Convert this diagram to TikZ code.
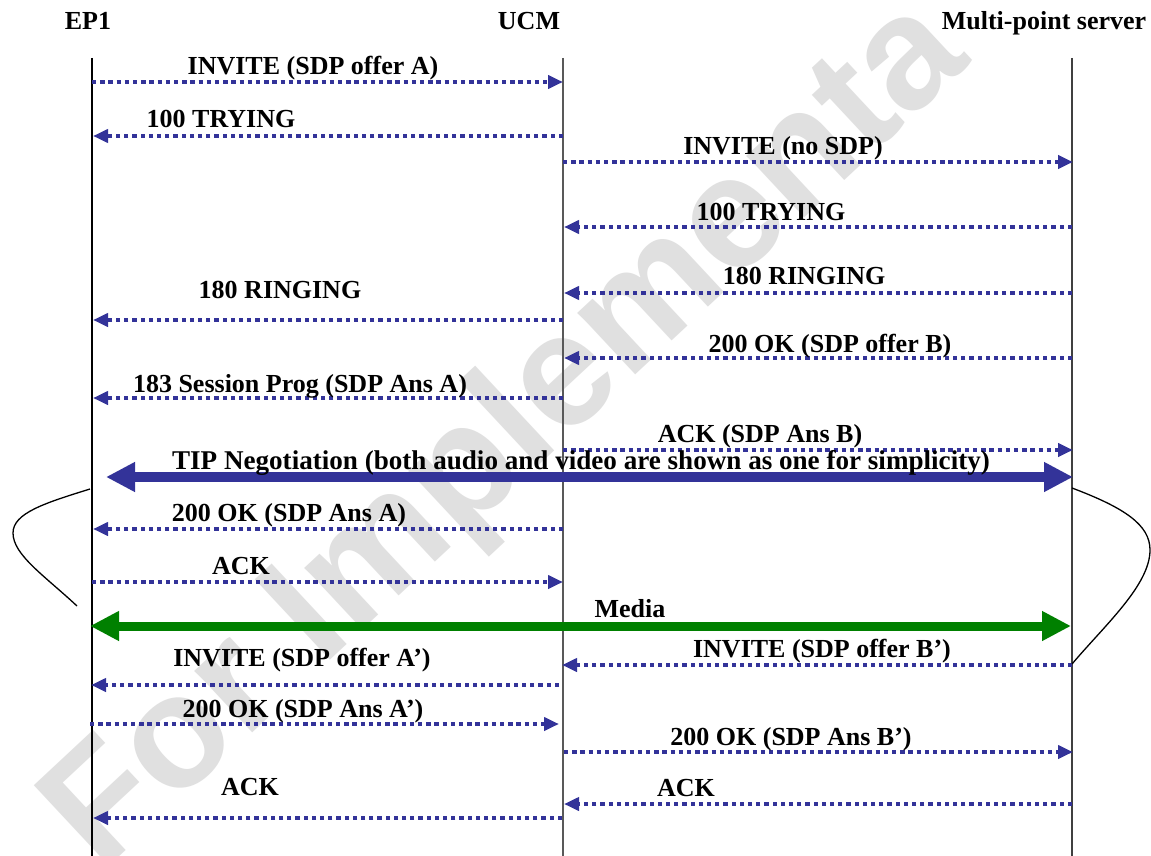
\documentclass[tikz,border=0pt]{standalone}
\usepackage{fontspec}
\setmainfont{Liberation Serif}
\newfontfamily\wmfont{Liberation Sans}
\usetikzlibrary{arrows.meta}
\definecolor{msgblue}{RGB}{51,51,153}
\definecolor{medgreen}{RGB}{0,128,0}
\definecolor{wmgray}{RGB}{224,224,224}
\newcommand\msgarrow[7]{%
  \coordinate (#1s) at (#3,#2);
  \coordinate (#1e) at (#4,#2);
  \draw[msgline] (#1s) -- (#1e);
  \node[lbl] (#1l) at (#5,#6) {#7};
}
\begin{document}
\begin{tikzpicture}[x=1pt,y=-1pt,
  lbl/.style={anchor=base,inner sep=0pt,font=\fontsize{26}{30}\selectfont\bfseries},
  head/.style={anchor=base,inner sep=0pt,font=\fontsize{26}{30}\selectfont\bfseries},
  msgline/.style={draw=msgblue,line width=4.2pt,dash pattern=on 4.3pt off 3.9pt,
    -{Triangle[length=15pt,width=13pt,fill=msgblue]}},
  lifeline/.style={line width=1.3pt},
  bigarrow/.style={line width=10pt,{Triangle[length=29pt,width=28pt]}-{Triangle[length=29pt,width=28pt]}},
  brace/.style={line width=1.3pt,black}
]
\useasboundingbox (0,0) rectangle (1151,856);
\fill[white] (0,0) rectangle (1151,856);
% watermark
\begin{scope}
\clip (0,0) rectangle (1151,856);
\node[anchor=base west,inner sep=0pt,rotate=43,text=wmgray,
  font=\fontsize{160}{160}\selectfont\wmfont\bfseries] (wm) at (101,874) {For Implementa};
\end{scope}
% headers
\node[head] (ep1) at (88,30) {EP1};
\node[head] (ucm) at (529,30) {UCM};
\node[head] (mps) at (1044,30) {Multi-point server};
% lifelines
\coordinate (ep1top) at (92,58);
\coordinate (ep1bot) at (92,856);
\coordinate (ucmtop) at (563,58);
\coordinate (ucmbot) at (563,856);
\coordinate (mpstop) at (1072,58);
\coordinate (mpsbot) at (1072,856);
\draw[lifeline,black] (ep1top) -- (ep1bot);
\draw[lifeline,black!65] (ucmtop) -- (ucmbot);
\draw[lifeline,black!75] (mpstop) -- (mpsbot);
% messages
\msgarrow{m1}{82}{92}{563}{313}{75}{INVITE (SDP offer A)}
\msgarrow{m2}{136}{563}{93}{221}{128}{100 TRYING}
\msgarrow{m3}{162}{563}{1073}{783}{154}{INVITE (no SDP)}
\msgarrow{m4}{227}{1072}{564}{771}{220}{100 TRYING}
\msgarrow{m5}{293}{1072}{564}{804}{284}{180 RINGING}
\msgarrow{m6}{320}{563}{93}{280}{298}{180 RINGING}
\msgarrow{m7}{358}{1072}{564}{830}{352}{200 OK (SDP offer B)}
\msgarrow{m8}{398}{563}{93}{300}{392}{183 Session Prog (SDP Ans A)}
\msgarrow{m9}{450}{563}{1073}{760}{442}{ACK (SDP Ans B)}
% TIP negotiation
\coordinate (tipl) at (106,477);
\coordinate (tipr) at (1073,477);
\draw[bigarrow,draw=msgblue,fill=msgblue] (tipl) -- (tipr);
\node[lbl,font=\fontsize{27.1}{30}\selectfont\bfseries] (tiplbl) at (581,469) {TIP Negotiation (both audio and video are shown as one for simplicity)};
\msgarrow{m11}{529}{563}{93}{289}{521}{200 OK (SDP Ans A)}
\msgarrow{m12}{582}{92}{563}{241}{574}{ACK}
% media
\coordinate (medl) at (90,626);
\coordinate (medr) at (1071,626);
\draw[bigarrow,line width=9pt,draw=medgreen,fill=medgreen] (medl) -- (medr);
\node[lbl] (medlbl) at (630,617) {Media};
\msgarrow{m14}{665}{1072}{562}{822}{657}{INVITE (SDP offer B’)}
\msgarrow{m15}{685}{559}{91}{302}{666}{INVITE (SDP offer A’)}
\msgarrow{m16}{724}{90}{559}{303}{717}{200 OK (SDP Ans A’)}
\msgarrow{m17}{752}{564}{1073}{791}{745}{200 OK (SDP Ans B’)}
\msgarrow{m18}{804}{1072}{564}{686}{796}{ACK}
\msgarrow{m19}{818}{562}{93}{250}{795}{ACK}
% curved brackets
\coordinate (lb1) at (90,489);
\coordinate (lb2) at (13,533);
\coordinate (lb3) at (77,606);
\draw[brace] (lb1) .. controls (45,503) and (13,513) .. (lb2) .. controls (13,555) and (45,576) .. (lb3);
\coordinate (rb1) at (1072,488);
\coordinate (rb2) at (1150,550);
\coordinate (rb3) at (1072,664);
\draw[brace] (rb1) .. controls (1125,508) and (1150,525) .. (rb2) .. controls (1150,585) and (1105,625) .. (rb3);
\end{tikzpicture}
\end{document}
